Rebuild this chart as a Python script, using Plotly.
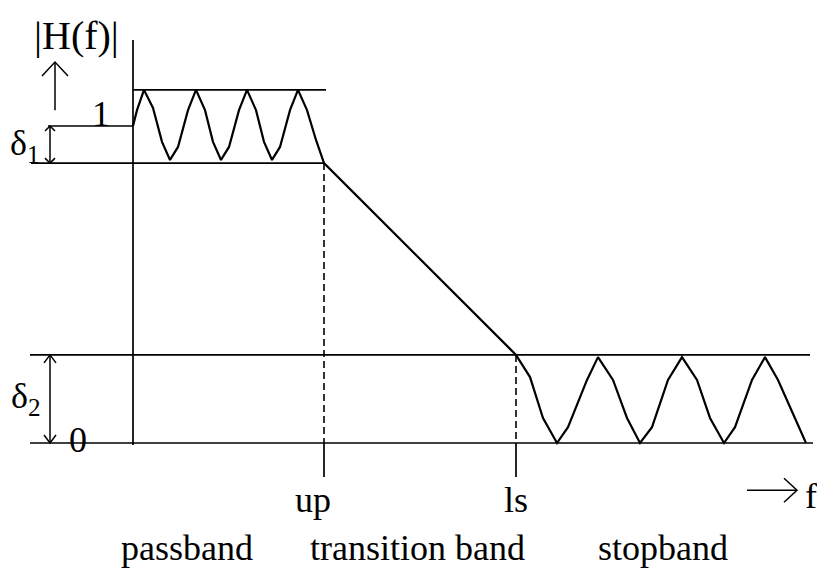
import plotly.graph_objects as go

W, H = 817, 573
X_RANGE = [-133, 684]          # frequency axis (arbitrary units)
Y_RANGE = [-0.410, 1.3975]     # magnitude |H(f)|
F_PER_PX = (X_RANGE[1] - X_RANGE[0]) / W
M_PER_PX = (Y_RANGE[1] - Y_RANGE[0]) / H

# ---- response corners ----------------------------------------------------
pass_f = [0, 4, 11, 20, 29, 37, 45, 55, 63, 72, 80, 88, 96, 106, 114, 123,
          131, 139, 147, 157, 165, 174, 183, 191]
pass_mag = [1.000, 1.050, 1.114, 1.057, 0.950, 0.893, 0.934, 1.050, 1.114,
            1.050, 0.950, 0.893, 0.934, 1.050, 1.114, 1.050, 0.950, 0.893,
            0.934, 1.050, 1.114, 1.050, 0.956, 0.883]
trans_f = [191, 383]
trans_mag = [0.883, 0.278]
stop_f = [383, 397, 410, 424, 435, 454, 465, 480, 494, 507, 519, 535, 549,
          564, 577, 591, 602, 619, 632, 645, 673]
stop_mag = [0.278, 0.208, 0.079, 0.0, 0.050, 0.199, 0.271, 0.199, 0.079, 0.0,
            0.050, 0.199, 0.271, 0.199, 0.079, 0.0, 0.050, 0.199, 0.271, 0.199,
            0.0]

# tolerance levels and band edges
PASS_HI, ONE, PASS_LO, STOP_HI, ZERO = 1.114, 1.0, 0.883, 0.278, 0.0
F_UP, F_LS = 191, 383

# horizontal guide lines: (level, f_start, f_end)
guides = [
    (PASS_HI, 0, 193),
    (ONE, -85, 0),
    (PASS_LO, -102, 190),
    (STOP_HI, -103, 677),
    (ZERO, -103, 680),
]
AXIS_TOP, TICK_BOTTOM = 1.271, -0.107

# ---- figure ----------------------------------------------------------------
fig = go.Figure()
BLACK = "#000000"

gx, gy = [], []
for lvl, a, b in guides:
    gx += [a, b, None]
    gy += [lvl, lvl, None]
# vertical magnitude axis
gx += [0, 0, None]
gy += [ZERO - 0.006, AXIS_TOP, None]
# solid ticks below the zero line at the band edges
for fe in (F_UP, F_LS):
    gx += [fe, fe, None]
    gy += [ZERO, TICK_BOTTOM, None]
fig.add_trace(go.Scatter(x=gx, y=gy, mode="lines",
                         line=dict(color=BLACK, width=1.7),
                         hoverinfo="skip", showlegend=False))

# dashed drop lines at the band edges
fig.add_trace(go.Scatter(x=[F_UP, F_UP, None, F_LS, F_LS],
                         y=[PASS_LO, ZERO, None, STOP_HI, ZERO],
                         mode="lines",
                         line=dict(color=BLACK, width=1.6, dash="7px,4px"),
                         hoverinfo="skip", showlegend=False))

# the response itself
resp_f = pass_f + trans_f[1:] + stop_f[1:]
resp_m = pass_mag + trans_mag[1:] + stop_mag[1:]
fig.add_trace(go.Scatter(x=resp_f, y=resp_m, mode="lines",
                         line=dict(color=BLACK, width=2.2),
                         hoverinfo="skip", showlegend=False))

# ---- arrows ------------------------------------------------------------------
ax_, ay_ = [], []


def vhead(f, tip, up, length, half):
    d = -length * M_PER_PX if up else length * M_PER_PX
    ax_.extend([f - half * F_PER_PX, f, f + half * F_PER_PX, None])
    ay_.extend([tip + d, tip, tip + d, None])


def varrow(f, lo, hi, both, length, half):
    ax_.extend([f, f, None])
    ay_.extend([lo, hi, None])
    vhead(f, hi, True, length, half)
    if both:
        vhead(f, lo, False, length, half)


varrow(-78, 1.050, 1.202, False, 14, 13)     # |H(f)| ↑
varrow(-83, PASS_LO, ONE, True, 5, 5)        # δ1
varrow(-83, ZERO, STOP_HI, True, 8, 6)       # δ2

# → f
F_ARROW_Y = -0.149
ax_.extend([614, 664, None])
ay_.extend([F_ARROW_Y, F_ARROW_Y, None])
ax_.extend([664 - 13 * F_PER_PX, 664, 664 - 13 * F_PER_PX, None])
ay_.extend([F_ARROW_Y + 12 * M_PER_PX, F_ARROW_Y, F_ARROW_Y - 12 * M_PER_PX, None])

fig.add_trace(go.Scatter(x=ax_, y=ay_, mode="lines",
                         line=dict(color=BLACK, width=1.5),
                         hoverinfo="skip", showlegend=False))

# ---- labels --------------------------------------------------------------------
FONT = "Liberation Serif, Times New Roman, serif"
labels = [
    ("|H(f)|", -57, 1.284, 40),
    ("1", -32, 1.038, 36),
    ("δ<sub>1</sub>", -108, 0.937, 36),
    ("δ<sub>2</sub>", -107, 0.142, 36),
    ("0", -55, 0.0095, 36),
    ("up", 180, -0.180, 36),
    ("ls", F_LS, -0.180, 36),
    ("f", 678, -0.167, 36),
    ("passband", 54, -0.331, 36),
    ("transition band", 284, -0.331, 36),
    ("stopband", 530, -0.331, 36),
]
for text, x, y, size in labels:
    fig.add_annotation(x=x, y=y, text=text, showarrow=False,
                       xanchor="center", yanchor="middle",
                       font=dict(family=FONT, size=size, color=BLACK))

fig.update_layout(
    width=W, height=H,
    margin=dict(l=0, r=0, t=0, b=0),
    paper_bgcolor="white", plot_bgcolor="white",
    xaxis=dict(range=X_RANGE, visible=False, fixedrange=True),
    yaxis=dict(range=Y_RANGE, visible=False, fixedrange=True),
    showlegend=False,
)

fig.write_html("out.html")
